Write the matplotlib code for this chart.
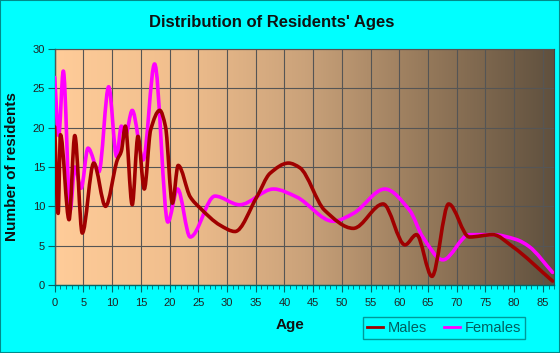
import numpy as np
import matplotlib
matplotlib.use("Agg")
import matplotlib.pyplot as plt
from matplotlib.path import Path
from matplotlib.patches import PathPatch, Rectangle
from matplotlib.lines import Line2D

plt.rcParams['font.family'] = ['Liberation Sans', 'DejaVu Sans']

male_age = [0, 0.6, 1.0, 2.5, 3.5, 4.8, 6.8, 8.85, 10.9, 11.6, 12.3, 13.5, 14.5, 15.6,
            16.7, 18.3, 19.3, 20.5, 21.5, 23.6, 25.3, 28.8, 31.4, 35.2, 37.5, 40.7,
            42.7, 47, 52, 57.2, 61, 63, 65.7, 68.6, 72.2, 76.3, 79.7, 86.7]
male_val = [20.1, 9.1, 19.1, 8.3, 19.0, 6.6, 15.5, 10.0, 15.9, 17.0, 20.2, 10.2, 18.9, 12.2,
            19.7, 22.2, 20.1, 10.4, 15.2, 11.2, 9.8, 7.6, 6.8, 11.2, 14.2, 15.5,
            14.9, 9.5, 7.2, 10.3, 5.1, 6.4, 1.1, 10.3, 6.1, 6.4, 4.9, 0.5]

female_age = [0, 0.7, 1.5, 2.7, 3.5, 4.6, 5.8, 7.7, 9.4, 10.8, 11.6, 12.3, 13.5, 15.4,
              17.4, 19.7, 21.4, 23.6, 27.9, 32.2, 38.1, 42.1, 48.5, 52, 57.5, 61.8,
              64.1, 67.6, 72.2, 76.3, 80.3, 82.6, 86.7]
female_val = [26.4, 19.0, 27.2, 9.5, 15.0, 12.3, 17.4, 14.4, 25.2, 16.3, 20.2, 19.0, 22.2, 15.9,
              28.1, 8.0, 12.2, 6.1, 11.3, 10.2, 12.2, 11.2, 8.1, 9.1, 12.2, 9.5,
              6.1, 3.2, 6.4, 6.4, 5.8, 4.9, 1.6]

x_ticks = list(range(0, 90, 5))
y_ticks = list(range(0, 35, 5))


def smooth_path(xs, ys):
    xs = np.asarray(xs, float)
    ys = np.asarray(ys, float)
    d = np.diff(ys) / np.diff(xs)
    n = len(xs)
    m = np.zeros(n)
    for i in range(1, n - 1):
        if d[i - 1] * d[i] > 0:
            m[i] = 2.0 / (1.0 / d[i - 1] + 1.0 / d[i])
        else:
            m[i] = 0.0
    m[0] = d[0]
    m[-1] = d[-1]
    verts = [(xs[0], ys[0])]
    codes = [Path.MOVETO]
    for i in range(n - 1):
        h = xs[i + 1] - xs[i]
        verts += [(xs[i] + h / 3, ys[i] + m[i] * h / 3),
                  (xs[i + 1] - h / 3, ys[i + 1] - m[i + 1] * h / 3),
                  (xs[i + 1], ys[i + 1])]
        codes += [Path.CURVE4] * 3
    return Path(verts, codes)


fig = plt.figure(figsize=(5.6, 3.53), dpi=100, facecolor='#00FFFF')
fig.patches.append(Rectangle((0, 0), 1, 1, transform=fig.transFigure, fill=False,
                             edgecolor='#008B8B', linewidth=1.5))
L, R, T, B = 54.7, 554.3, 49, 285
ax = fig.add_axes([L / 560, 1 - B / 353, (R - L) / 560, (B - T) / 353])
ax.set_xlim(0, 87)
ax.set_ylim(0, 30)

stops = np.array([[255, 204, 153], [240, 190, 141], [202, 162, 122],
                  [148, 120, 90], [95, 80, 62]]) / 255.0
pos = np.linspace(0, 1, len(stops))
xx = np.linspace(0, 1, 500)
grad = np.stack([np.interp(xx, pos, stops[:, k]) for k in range(3)], axis=-1)[None, :, :]
ax.imshow(grad, extent=[0, 1, 0, 1], transform=ax.transAxes, aspect='auto', zorder=0)

ax.set_xticks(x_ticks)
ax.set_yticks(y_ticks)
ax.set_xticks(range(0, 88), minor=True)
ax.grid(True, which='major', color='#555555', linewidth=0.8, zorder=1)
ax.set_axisbelow(False)

ax.add_patch(PathPatch(smooth_path(female_age, female_val), fill=False, edgecolor='#FF00FF',
                       linewidth=2.6, zorder=3, capstyle='round', joinstyle='round'))
ax.add_patch(PathPatch(smooth_path(male_age, male_val), fill=False, edgecolor='#A00000',
                       linewidth=2.6, zorder=4, capstyle='round', joinstyle='round'))

for s in ['top', 'right']:
    ax.spines[s].set_color('#444444')
    ax.spines[s].set_linewidth(0.8)
for s in ['left', 'bottom']:
    ax.spines[s].set_color('#006666')
    ax.spines[s].set_linewidth(1.0)

ax.tick_params(axis='both', which='major', direction='out', length=5, color='#006666',
               labelsize=8, labelcolor='#222222', pad=2)
ax.tick_params(axis='x', which='minor', direction='out', length=3, color='#006666')
ax.tick_params(axis='x', which='major', pad=4)

fig.text(272 / 560, 1 - 22 / 353, "Distribution of Residents' Ages", ha='center', va='center',
         fontsize=12, fontweight='bold', color='#111111')
fig.text(12 / 560, 1 - 167 / 353, 'Number of residents', rotation=90, ha='center', va='center',
         fontsize=11, fontweight='bold', color='#111111')
fig.text(290 / 560, 1 - 325 / 353, 'Age', ha='center', va='center',
         fontsize=11, fontweight='bold', color='#111111')

handles = [Line2D([], [], color='#A00000', linewidth=2),
           Line2D([], [], color='#FF00FF', linewidth=2)]
leg = fig.legend(handles, ['Males', 'Females'], loc='center', bbox_to_anchor=(444 / 560, 1 - 328 / 353),
                 ncol=2, frameon=True, fancybox=False, fontsize=10.5, handlelength=1.1,
                 handletextpad=0.3, columnspacing=1.2, borderpad=0.3, labelcolor='#006060')
leg.get_frame().set_edgecolor('#008080')
leg.get_frame().set_facecolor('#00FFFF')
leg.get_frame().set_linewidth(1.0)

fig.savefig('out.png', dpi=100, facecolor=fig.get_facecolor())
